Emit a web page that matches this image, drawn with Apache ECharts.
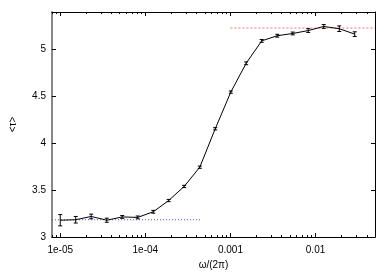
<!DOCTYPE html>
<html><head><meta charset="utf-8">
<script src="https://cdn.jsdelivr.net/npm/echarts@6/dist/echarts.min.js"></script>
<style>html,body{margin:0;padding:0;background:#fff}#c{width:392px;height:275px}</style>
</head><body><div id="c"></div>
<script>
var freq = [1.0e-5, 1.52e-5, 2.31e-5, 3.52e-5, 5.35e-5, 8.14e-5, 1.24e-4, 1.88e-4, 2.86e-4, 4.36e-4,
            6.63e-4, 1.01e-3, 1.53e-3, 2.33e-3, 3.55e-3, 5.40e-3, 8.21e-3, 1.25e-2, 1.90e-2, 2.89e-2];
var tau  = [3.18, 3.185, 3.22, 3.18, 3.215, 3.21, 3.27, 3.39, 3.54, 3.745,
            4.155, 4.546, 4.853, 5.092, 5.147, 5.171, 5.202, 5.246, 5.222, 5.164];
var err  = [0.06, 0.035, 0.025, 0.022, 0.015, 0.015, 0.015, 0.012, 0.012, 0.012,
            0.012, 0.012, 0.015, 0.015, 0.015, 0.015, 0.02, 0.02, 0.03, 0.025];
var lowRef = {y: 3.185, x0: 8e-6, x1: 4.6e-4};
var highRef = {y: 5.229, x0: 1e-3, x1: 0.05};
var xMajor = [1e-5, 1e-4, 1e-3, 1e-2];
var xMajorLabels = ['1e-05', '1e-04', '0.001', '0.01'];
var yTicks = [3, 3.5, 4, 4.5, 5];
var yTickLabels = ['3', '3.5', '4', '4.5', '5'];

var xMin = 8e-6, xMax = 0.05, yMin = 3, yMax = 5.4;
var xMinor = [];
for (var e = -6; e <= -2; e++) {
  for (var k = 2; k <= 9; k++) {
    var v = k * Math.pow(10, e);
    if (v >= xMin && v <= xMax) xMinor.push(v);
  }
}
var labelMap = {};
xMajor.forEach(function (v, i) { labelMap[v.toExponential(0)] = xMajorLabels[i]; });

var lineData = freq.map(function (f, i) { return [f, tau[i]]; });
var errData = freq.map(function (f, i) { return [f, tau[i] - err[i], tau[i] + err[i]]; });

var font = 'Liberation Sans';
function xAx(pos, minor, labels) {
  return {
    type: 'log', logBase: 10, min: xMin, max: xMax, position: pos,
    axisLine: {show: !minor, lineStyle: {color: '#000', width: 1}},
    axisTick: {show: true, inside: true, length: minor ? 2 : 4, lineStyle: {color: '#000', width: 1},
               customValues: minor ? xMinor : xMajor},
    axisLabel: {show: !!labels, customValues: xMajor, fontFamily: font, fontSize: 10, color: '#000', margin: 8,
                formatter: function (v) { return labelMap[Number(v).toExponential(0)] || ''; }},
    splitLine: {show: false},
    name: labels ? 'ω/(2π)' : '', nameLocation: 'middle', nameGap: 19,
    nameTextStyle: {fontFamily: font, fontSize: 10, color: '#000'}
  };
}
function yAx(pos, left) {
  return {
    type: 'value', min: yMin, max: yMax, position: pos,
    axisLine: {show: true, lineStyle: {color: left ? '#888' : '#000', width: left ? 2 : 1}},
    axisTick: {show: true, inside: true, length: 4, customValues: yTicks, lineStyle: {color: '#000'}},
    axisLabel: {show: left, customValues: yTicks, fontFamily: font, fontSize: 10, color: '#000', margin: 6,
                formatter: function (v) { var i = yTicks.indexOf(Number(v)); return i >= 0 ? yTickLabels[i] : ''; }},
    splitLine: {show: false},
    name: left ? '<τ>' : '', nameLocation: 'middle', nameGap: 34, nameRotate: 90,
    nameTextStyle: {fontFamily: font, fontSize: 10, color: '#000'}
  };
}

var chart = echarts.init(document.getElementById('c'), null, {renderer: 'canvas'});
chart.setOption({
  animation: false,
  backgroundColor: '#fff',
  grid: {left: 50, right: 17, top: 12, bottom: 30},
  xAxis: [xAx('bottom', false, true), xAx('bottom', true, false), xAx('top', false, false), xAx('top', true, false)],
  yAxis: [yAx('left', true), yAx('right', false)],
  series: [
    {type: 'line', data: [[lowRef.x0, lowRef.y], [lowRef.x1, lowRef.y]], showSymbol: false,
     lineStyle: {color: '#5050ff', width: 1, type: [1, 2]}, z: 1},
    {type: 'line', data: [[highRef.x0, highRef.y], [highRef.x1, highRef.y]], showSymbol: false,
     lineStyle: {color: '#ff7070', width: 1, type: [2, 2]}, z: 1},
    {type: 'line', data: lineData, showSymbol: false, lineStyle: {color: '#000', width: 1}, z: 3},
    {type: 'custom', data: errData, z: 4,
     renderItem: function (params, api) {
       var lo = api.coord([api.value(0), api.value(1)]);
       var hi = api.coord([api.value(0), api.value(2)]);
       var w = 2;
       var st = {stroke: '#000', lineWidth: 1};
       return {type: 'group', children: [
         {type: 'line', shape: {x1: lo[0], y1: lo[1], x2: hi[0], y2: hi[1]}, style: st},
         {type: 'line', shape: {x1: lo[0] - w, y1: lo[1], x2: lo[0] + w, y2: lo[1]}, style: st},
         {type: 'line', shape: {x1: hi[0] - w, y1: hi[1], x2: hi[0] + w, y2: hi[1]}, style: st}
       ]};
     }}
  ]
});
</script></body></html>
